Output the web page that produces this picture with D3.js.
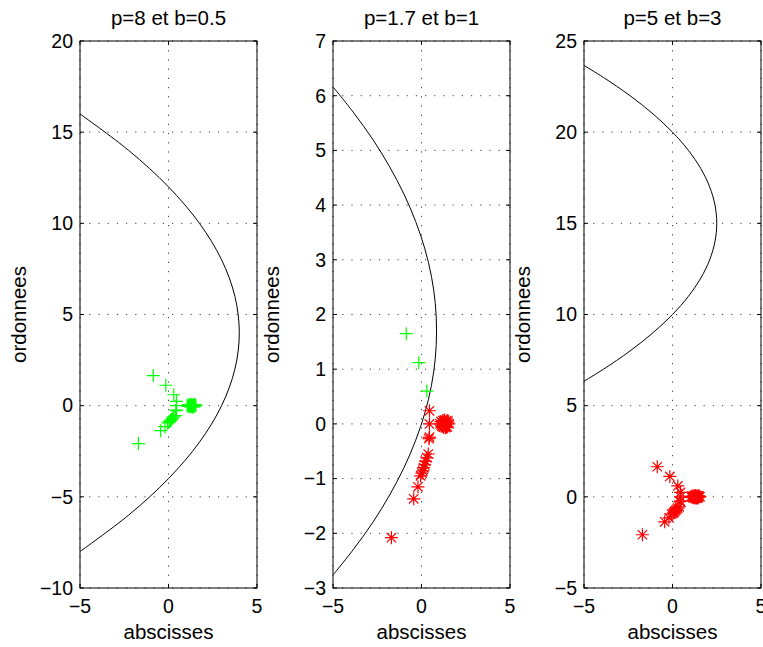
<!DOCTYPE html>
<html>
<head>
<meta charset="utf-8">
<script src="https://cdn.jsdelivr.net/npm/d3@7"></script>
<style>
  html, body { margin: 0; padding: 0; background: #fff; }
  text { font-family: "Liberation Sans", Arial, Helvetica, sans-serif; fill: #000; }
</style>
</head>
<body>
<svg id="chart" width="763" height="647"></svg>
<script>
// ---------- data ----------
const titles = ["p=8 et b=0.5", "p=1.7 et b=1", "p=5 et b=3"];
const pValues = [8, 1.7, 5];
const bValues = [0.5, 1, 3];
const xTicks = [-5, 0, 5];
const yTicks1 = [-10, -5, 0, 5, 10, 15, 20];
const yTicks2 = [-3, -2, -1, 0, 1, 2, 3, 4, 5, 6, 7];
const yTicks3 = [-5, 0, 5, 10, 15, 20, 25];

// parabola curves
const curve1X = [-5, -2.25, 0, 1.75, 3, 3.75, 4, 3.75, 3, 1.75, 0, -2.25, -5];
const curve1Y = [-8, -6, -4, -2, 0, 2, 4, 6, 8, 10, 12, 14, 16];
const curve2X = [-4.97, -3.86, -2.75, -1.8, -0.99, -0.33, 0.19, 0.56, 0.78, 0.85, 0.78, 0.56, 0.19, -0.33, -0.99, -1.8, -2.75, -3.86, -4.97];
const curve2Y = [-2.75, -2.3, -1.8, -1.3, -0.8, -0.3, 0.2, 0.7, 1.2, 1.7, 2.2, 2.7, 3.2, 3.7, 4.2, 4.7, 5.2, 5.7, 6.15];
const curve3X = [-5, -3.9, -2.4, -1.1, 0, 0.9, 1.6, 2.1, 2.4, 2.5, 2.4, 2.1, 1.6, 0.9, 0, -1.1, -2.4, -3.9, -5];
const curve3Y = [6.34, 7, 8, 9, 10, 11, 12, 13, 14, 15, 16, 17, 18, 19, 20, 21, 22, 23, 23.66];

// scatter points (same set in every panel)
const pointsX = [-0.86, -0.15, 0.3, 0.45, 0.45, 0.45, 0.42, 0.38, 0.3, 0.23, 0.18, 0.12, 0.08, 0.03, -0.05, -0.2, -0.44, -1.7,
  1.05, 1.1, 1.15, 1.2, 1.25, 1.3, 1.35, 1.4, 1.45, 1.5, 1.55, 1.12, 1.18, 1.22, 1.28, 1.32, 1.38, 1.42, 1.48, 1.3, 1.25, 1.35];
const pointsY = [1.65, 1.12, 0.6, 0.24, 0.0, -0.24, -0.27, -0.55, -0.62, -0.68, -0.75, -0.8, -0.86, -0.9, -0.95, -1.15, -1.37, -2.08,
  0.0, 0.04, -0.04, 0.06, -0.06, 0.07, -0.07, 0.05, -0.05, 0.03, 0.0, -0.02, 0.02, -0.05, 0.05, -0.03, 0.03, -0.06, 0.06, 0.0, 0.01, -0.01];

// ---------- layout ----------
const panels = [
  { left: 80,  yDomain: [-10, 20], yTicks: yTicks1, cx: curve1X, cy: curve1Y },
  { left: 333, yDomain: [-3, 7],   yTicks: yTicks2, cx: curve2X, cy: curve2Y },
  { left: 584, yDomain: [-5, 25],  yTicks: yTicks3, cx: curve3X, cy: curve3Y }
];
const plotW = 177, plotTop = 41, plotH = 547;
const fsTick = 19.5, fsLab = 20.5;
const svg = d3.select("#chart");

panels.forEach((pn, i) => {
  const g = svg.append("g").attr("transform", `translate(${pn.left},${plotTop})`);
  const x = d3.scaleLinear().domain([-5, 5]).range([0, plotW]);
  const y = d3.scaleLinear().domain(pn.yDomain).range([plotH, 0]);
  const fmt = d => d3.format("")(d);

  const clipId = "clip" + i;
  g.append("clipPath").attr("id", clipId)
    .append("rect").attr("width", plotW).attr("height", plotH);

  // grid (dotted)
  g.append("g").selectAll("line").data(xTicks).join("line")
    .attr("x1", d => x(d)).attr("x2", d => x(d)).attr("y1", 0).attr("y2", plotH)
    .attr("stroke", "#000").attr("stroke-width", 1).attr("stroke-dasharray", "1.2,8").attr("opacity", 0.75);
  g.append("g").selectAll("line").data(pn.yTicks).join("line")
    .attr("y1", d => y(d)).attr("y2", d => y(d)).attr("x1", 0).attr("x2", plotW)
    .attr("stroke", "#000").attr("stroke-width", 1).attr("stroke-dasharray", "1.2,8").attr("opacity", 0.75);

  // parabola
  const cdata = pn.cx.map((v, k) => [v, pn.cy[k]]);
  g.append("path").datum(cdata)
    .attr("clip-path", `url(#${clipId})`)
    .attr("d", d3.line().x(d => x(d[0])).y(d => y(d[1])).curve(d3.curveCatmullRom.alpha(0.5)))
    .attr("fill", "none").attr("stroke", "#000").attr("stroke-width", 1);

  // points: green + inside the parabola, red * outside
  const p = pValues[i], b = bValues[i];
  const pts = pointsX.map((v, k) => ({ x: v, y: pointsY[k] }));
  pts.forEach(d => { d.inside = d.x < p / 2 - Math.pow(d.y - p * b, 2) / (2 * p); });
  const r = 6.5, rd = r * 0.72;
  const mg = g.append("g").attr("clip-path", `url(#${clipId})`);
  pts.forEach(d => {
    const px = x(d.x), py = y(d.y);
    const col = d.inside ? "#00ff00" : "#ff0000";
    let path = `M${px - r},${py}H${px + r}M${px},${py - r}V${py + r}`;
    if (!d.inside) path += `M${px - rd},${py - rd}L${px + rd},${py + rd}M${px - rd},${py + rd}L${px + rd},${py - rd}`;
    mg.append("path").attr("d", path).attr("stroke", col).attr("stroke-width", 1.2).attr("fill", "none");
  });

  // ticks (inward, both sides)
  const tl = 4;
  xTicks.forEach(t => {
    g.append("line").attr("x1", x(t)).attr("x2", x(t)).attr("y1", plotH).attr("y2", plotH - tl).attr("stroke", "#000");
    g.append("line").attr("x1", x(t)).attr("x2", x(t)).attr("y1", 0).attr("y2", tl).attr("stroke", "#000");
  });
  pn.yTicks.forEach(t => {
    g.append("line").attr("y1", y(t)).attr("y2", y(t)).attr("x1", 0).attr("x2", tl).attr("stroke", "#000");
    g.append("line").attr("y1", y(t)).attr("y2", y(t)).attr("x1", plotW).attr("x2", plotW - tl).attr("stroke", "#000");
  });

  // box
  g.append("rect").attr("width", plotW).attr("height", plotH)
    .attr("fill", "none").attr("stroke", "#000").attr("stroke-width", 1);

  // tick labels
  g.append("g").selectAll("text").data(xTicks).join("text")
    .attr("x", d => x(d)).attr("y", plotH + 25).attr("text-anchor", "middle")
    .attr("font-size", fsTick).text(fmt);
  g.append("g").selectAll("text").data(pn.yTicks).join("text")
    .attr("x", -7).attr("y", d => y(d)).attr("dy", "0.35em").attr("text-anchor", "end")
    .attr("font-size", fsTick).text(fmt);

  // title & labels
  g.append("text").attr("x", plotW / 2).attr("y", -16).attr("text-anchor", "middle")
    .attr("font-size", fsLab).text(titles[i]);
  g.append("text").attr("x", plotW / 2).attr("y", plotH + 51).attr("text-anchor", "middle")
    .attr("font-size", fsLab).text("abscisses");
  g.append("text").attr("transform", `translate(${-54},${plotH / 2}) rotate(-90)`)
    .attr("text-anchor", "middle").attr("font-size", fsLab).text("ordonnees");
});
</script>
</body>
</html>
